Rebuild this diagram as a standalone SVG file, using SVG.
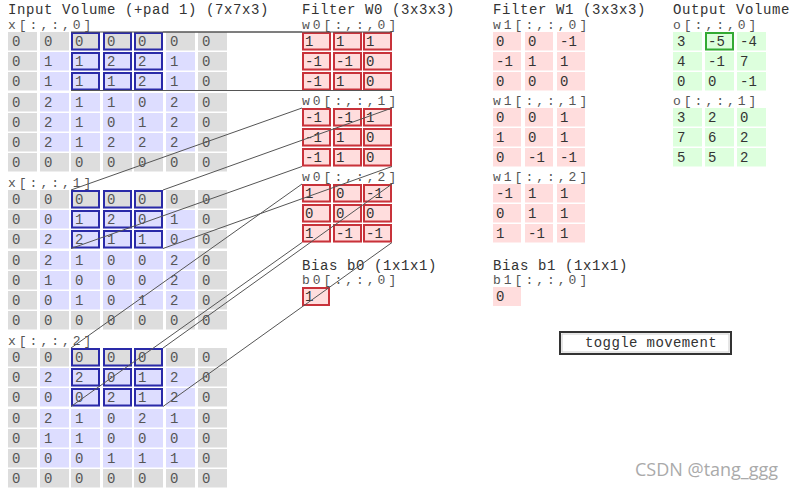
<svg xmlns="http://www.w3.org/2000/svg" width="800" height="492" viewBox="0 0 800 492">
<style>
text{font-family:"Liberation Mono","DejaVu Sans Mono",monospace}
.t{font-size:14px;fill:#333;letter-spacing:0.6px}
.l{font-size:13px;fill:#555;letter-spacing:3px}
.n{font-size:14px;fill:#555}
.fn{font-size:14px;fill:#333}
.p{fill:#ddd}
.i{fill:#ddf}
.f{fill:#fdd}
.o{fill:#dfd}
.hb{fill:none;stroke:#2a2aa8;stroke-width:2}
.hr{fill:none;stroke:#c8323a;stroke-width:2}
.hg{fill:none;stroke:#33aa33;stroke-width:2}
.c{stroke:#555;stroke-width:1;fill:none}
</style>
<defs>
<rect id="cp" class="p" width="29" height="18.5"/>
<rect id="ci" class="i" width="29" height="18.5"/>
<rect id="cf" class="f" width="29" height="18.5"/>
<rect id="cw" class="f" width="28" height="18.5"/>
<rect id="co" class="o" width="29" height="18.5"/>
<rect id="bb" class="hb" x="1" y="1" width="27" height="16.5"/>
<rect id="br" class="hr" x="1" y="1" width="27" height="16.5"/>
<g id="pgrid">
<use href="#cp" x="8" y="0"/><use href="#cp" x="40" y="0"/><use href="#cp" x="71" y="0"/><use href="#cp" x="103" y="0"/><use href="#cp" x="134" y="0"/><use href="#cp" x="166" y="0"/><use href="#cp" x="198" y="0"/>
<use href="#cp" x="8" y="20"/><use href="#ci" x="40" y="20"/><use href="#ci" x="71" y="20"/><use href="#ci" x="103" y="20"/><use href="#ci" x="134" y="20"/><use href="#ci" x="166" y="20"/><use href="#cp" x="198" y="20"/>
<use href="#cp" x="8" y="40"/><use href="#ci" x="40" y="40"/><use href="#ci" x="71" y="40"/><use href="#ci" x="103" y="40"/><use href="#ci" x="134" y="40"/><use href="#ci" x="166" y="40"/><use href="#cp" x="198" y="40"/>
<use href="#cp" x="8" y="61"/><use href="#ci" x="40" y="61"/><use href="#ci" x="71" y="61"/><use href="#ci" x="103" y="61"/><use href="#ci" x="134" y="61"/><use href="#ci" x="166" y="61"/><use href="#cp" x="198" y="61"/>
<use href="#cp" x="8" y="81"/><use href="#ci" x="40" y="81"/><use href="#ci" x="71" y="81"/><use href="#ci" x="103" y="81"/><use href="#ci" x="134" y="81"/><use href="#ci" x="166" y="81"/><use href="#cp" x="198" y="81"/>
<use href="#cp" x="8" y="101"/><use href="#ci" x="40" y="101"/><use href="#ci" x="71" y="101"/><use href="#ci" x="103" y="101"/><use href="#ci" x="134" y="101"/><use href="#ci" x="166" y="101"/><use href="#cp" x="198" y="101"/>
<use href="#cp" x="8" y="121"/><use href="#cp" x="40" y="121"/><use href="#cp" x="71" y="121"/><use href="#cp" x="103" y="121"/><use href="#cp" x="134" y="121"/><use href="#cp" x="166" y="121"/><use href="#cp" x="198" y="121"/>
<use href="#bb" x="71" y="0"/><use href="#bb" x="103" y="0"/><use href="#bb" x="134" y="0"/>
<use href="#bb" x="71" y="20"/><use href="#bb" x="103" y="20"/><use href="#bb" x="134" y="20"/>
<use href="#bb" x="71" y="40"/><use href="#bb" x="103" y="40"/><use href="#bb" x="134" y="40"/>
</g>
<g id="fgrid">
<use href="#cf" x="302" y="0"/><use href="#cf" x="333" y="0"/><use href="#cf" x="363" y="0"/>
<use href="#cf" x="302" y="20"/><use href="#cf" x="333" y="20"/><use href="#cf" x="363" y="20"/>
<use href="#cf" x="302" y="40"/><use href="#cf" x="333" y="40"/><use href="#cf" x="363" y="40"/>
<use href="#br" x="302" y="0"/><use href="#br" x="333" y="0"/><use href="#br" x="363" y="0"/>
<use href="#br" x="302" y="20"/><use href="#br" x="333" y="20"/><use href="#br" x="363" y="20"/>
<use href="#br" x="302" y="40"/><use href="#br" x="333" y="40"/><use href="#br" x="363" y="40"/>
</g>
<g id="wgrid">
<use href="#cw" x="493" y="0"/><use href="#cw" x="525" y="0"/><use href="#cw" x="557" y="0"/>
<use href="#cw" x="493" y="20"/><use href="#cw" x="525" y="20"/><use href="#cw" x="557" y="20"/>
<use href="#cw" x="493" y="40"/><use href="#cw" x="525" y="40"/><use href="#cw" x="557" y="40"/>
</g>
<g id="ogrid">
<use href="#co" x="673" y="0"/><use href="#co" x="705" y="0"/><use href="#co" x="737" y="0"/>
<use href="#co" x="673" y="20"/><use href="#co" x="705" y="20"/><use href="#co" x="737" y="20"/>
<use href="#co" x="673" y="40"/><use href="#co" x="705" y="40"/><use href="#co" x="737" y="40"/>
</g>
</defs>
<rect width="800" height="492" fill="#fff"/>

<text class="t" x="8" y="14">Input Volume (+pad 1) (7x7x3)</text>
<text class="t" x="302" y="14">Filter W0 (3x3x3)</text>
<text class="t" x="493" y="14">Filter W1 (3x3x3)</text>
<text class="t" x="673" y="14">Output Volume</text>

<g id="input-x0">
<text class="l" x="8" y="29">x[:,:,0]</text>
<use href="#pgrid" y="32"/>
<g class="n">
<text x="12" y="46">0</text><text x="44" y="46">0</text><text x="75" y="46">0</text><text x="107" y="46">0</text><text x="138" y="46">0</text><text x="170" y="46">0</text><text x="202" y="46">0</text>
<text x="12" y="66">0</text><text x="44" y="66">1</text><text x="75" y="66">1</text><text x="107" y="66">2</text><text x="138" y="66">2</text><text x="170" y="66">1</text><text x="202" y="66">0</text>
<text x="12" y="86">0</text><text x="44" y="86">1</text><text x="75" y="86">1</text><text x="107" y="86">1</text><text x="138" y="86">2</text><text x="170" y="86">1</text><text x="202" y="86">0</text>
<text x="12" y="107">0</text><text x="44" y="107">2</text><text x="75" y="107">1</text><text x="107" y="107">1</text><text x="138" y="107">0</text><text x="170" y="107">2</text><text x="202" y="107">0</text>
<text x="12" y="127">0</text><text x="44" y="127">2</text><text x="75" y="127">1</text><text x="107" y="127">0</text><text x="138" y="127">1</text><text x="170" y="127">2</text><text x="202" y="127">0</text>
<text x="12" y="147">0</text><text x="44" y="147">2</text><text x="75" y="147">1</text><text x="107" y="147">2</text><text x="138" y="147">2</text><text x="170" y="147">2</text><text x="202" y="147">0</text>
<text x="12" y="167">0</text><text x="44" y="167">0</text><text x="75" y="167">0</text><text x="107" y="167">0</text><text x="138" y="167">0</text><text x="170" y="167">0</text><text x="202" y="167">0</text>
</g>
</g>

<g id="input-x1">
<text class="l" x="8" y="187">x[:,:,1]</text>
<use href="#pgrid" y="190"/>
<g class="n">
<text x="12" y="204">0</text><text x="44" y="204">0</text><text x="75" y="204">0</text><text x="107" y="204">0</text><text x="138" y="204">0</text><text x="170" y="204">0</text><text x="202" y="204">0</text>
<text x="12" y="224">0</text><text x="44" y="224">0</text><text x="75" y="224">1</text><text x="107" y="224">2</text><text x="138" y="224">0</text><text x="170" y="224">1</text><text x="202" y="224">0</text>
<text x="12" y="244">0</text><text x="44" y="244">2</text><text x="75" y="244">2</text><text x="107" y="244">1</text><text x="138" y="244">1</text><text x="170" y="244">0</text><text x="202" y="244">0</text>
<text x="12" y="265">0</text><text x="44" y="265">2</text><text x="75" y="265">1</text><text x="107" y="265">0</text><text x="138" y="265">0</text><text x="170" y="265">2</text><text x="202" y="265">0</text>
<text x="12" y="285">0</text><text x="44" y="285">1</text><text x="75" y="285">0</text><text x="107" y="285">0</text><text x="138" y="285">0</text><text x="170" y="285">2</text><text x="202" y="285">0</text>
<text x="12" y="305">0</text><text x="44" y="305">0</text><text x="75" y="305">1</text><text x="107" y="305">0</text><text x="138" y="305">1</text><text x="170" y="305">2</text><text x="202" y="305">0</text>
<text x="12" y="325">0</text><text x="44" y="325">0</text><text x="75" y="325">0</text><text x="107" y="325">0</text><text x="138" y="325">0</text><text x="170" y="325">0</text><text x="202" y="325">0</text>
</g>
</g>

<g id="input-x2">
<text class="l" x="8" y="345">x[:,:,2]</text>
<use href="#pgrid" y="348"/>
<g class="n">
<text x="12" y="362">0</text><text x="44" y="362">0</text><text x="75" y="362">0</text><text x="107" y="362">0</text><text x="138" y="362">0</text><text x="170" y="362">0</text><text x="202" y="362">0</text>
<text x="12" y="382">0</text><text x="44" y="382">2</text><text x="75" y="382">2</text><text x="107" y="382">0</text><text x="138" y="382">1</text><text x="170" y="382">2</text><text x="202" y="382">0</text>
<text x="12" y="402">0</text><text x="44" y="402">0</text><text x="75" y="402">0</text><text x="107" y="402">2</text><text x="138" y="402">1</text><text x="170" y="402">2</text><text x="202" y="402">0</text>
<text x="12" y="423">0</text><text x="44" y="423">2</text><text x="75" y="423">1</text><text x="107" y="423">0</text><text x="138" y="423">2</text><text x="170" y="423">1</text><text x="202" y="423">0</text>
<text x="12" y="443">0</text><text x="44" y="443">1</text><text x="75" y="443">1</text><text x="107" y="443">0</text><text x="138" y="443">0</text><text x="170" y="443">0</text><text x="202" y="443">0</text>
<text x="12" y="463">0</text><text x="44" y="463">0</text><text x="75" y="463">0</text><text x="107" y="463">1</text><text x="138" y="463">1</text><text x="170" y="463">1</text><text x="202" y="463">0</text>
<text x="12" y="483">0</text><text x="44" y="483">0</text><text x="75" y="483">0</text><text x="107" y="483">0</text><text x="138" y="483">0</text><text x="170" y="483">0</text><text x="202" y="483">0</text>
</g>
</g>

<g id="filter-w0-0">
<text class="l" x="302" y="29">w0[:,:,0]</text>
<use href="#fgrid" y="32"/>
<g class="fn">
<text x="305" y="46">1</text><text x="336" y="46">1</text><text x="366" y="46">1</text>
<text x="305" y="66">-1</text><text x="336" y="66">-1</text><text x="366" y="66">0</text>
<text x="305" y="86">-1</text><text x="336" y="86">1</text><text x="366" y="86">0</text>
</g>
</g>
<g id="filter-w0-1">
<text class="l" x="302" y="105">w0[:,:,1]</text>
<use href="#fgrid" y="108"/>
<g class="fn">
<text x="305" y="122">-1</text><text x="336" y="122">-1</text><text x="366" y="122">1</text>
<text x="305" y="142">-1</text><text x="336" y="142">1</text><text x="366" y="142">0</text>
<text x="305" y="162">-1</text><text x="336" y="162">1</text><text x="366" y="162">0</text>
</g>
</g>
<g id="filter-w0-2">
<text class="l" x="302" y="181">w0[:,:,2]</text>
<use href="#fgrid" y="184"/>
<g class="fn">
<text x="305" y="198">1</text><text x="336" y="198">0</text><text x="366" y="198">-1</text>
<text x="305" y="218">0</text><text x="336" y="218">0</text><text x="366" y="218">0</text>
<text x="305" y="238">1</text><text x="336" y="238">-1</text><text x="366" y="238">-1</text>
</g>
</g>
<g id="bias-b0">
<text class="t" x="302" y="270">Bias b0 (1x1x1)</text>
<text class="l" x="302" y="284">b0[:,:,0]</text>
<rect class="f" x="302" y="287" width="28" height="19"/>
<rect class="hr" x="303" y="288" width="26" height="17"/>
<text class="fn" x="305" y="301">1</text>
</g>

<g id="filter-w1-0">
<text class="l" x="493" y="29">w1[:,:,0]</text>
<use href="#wgrid" y="32"/>
<g class="fn">
<text x="496" y="46">0</text><text x="528" y="46">0</text><text x="560" y="46">-1</text>
<text x="496" y="66">-1</text><text x="528" y="66">1</text><text x="560" y="66">1</text>
<text x="496" y="86">0</text><text x="528" y="86">0</text><text x="560" y="86">0</text>
</g>
</g>
<g id="filter-w1-1">
<text class="l" x="493" y="105">w1[:,:,1]</text>
<use href="#wgrid" y="108"/>
<g class="fn">
<text x="496" y="122">0</text><text x="528" y="122">0</text><text x="560" y="122">1</text>
<text x="496" y="142">1</text><text x="528" y="142">0</text><text x="560" y="142">1</text>
<text x="496" y="162">0</text><text x="528" y="162">-1</text><text x="560" y="162">-1</text>
</g>
</g>
<g id="filter-w1-2">
<text class="l" x="493" y="181">w1[:,:,2]</text>
<use href="#wgrid" y="184"/>
<g class="fn">
<text x="496" y="198">-1</text><text x="528" y="198">1</text><text x="560" y="198">1</text>
<text x="496" y="218">0</text><text x="528" y="218">1</text><text x="560" y="218">1</text>
<text x="496" y="238">1</text><text x="528" y="238">-1</text><text x="560" y="238">1</text>
</g>
</g>
<g id="bias-b1">
<text class="t" x="493" y="270">Bias b1 (1x1x1)</text>
<text class="l" x="493" y="284">b1[:,:,0]</text>
<rect class="f" x="493" y="287" width="28" height="19"/>
<text class="fn" x="496" y="301">0</text>
</g>

<g id="output-o0">
<text class="l" x="673" y="29">o[:,:,0]</text>
<use href="#ogrid" y="32"/>
<rect class="hg" x="706" y="33" width="27" height="16.5"/>
<g class="fn">
<text x="677" y="46">3</text><text x="708" y="46">-5</text><text x="740" y="46">-4</text>
<text x="677" y="66">4</text><text x="708" y="66">-1</text><text x="740" y="66">7</text>
<text x="677" y="86">0</text><text x="708" y="86">0</text><text x="740" y="86">-1</text>
</g>
</g>
<g id="output-o1">
<text class="l" x="673" y="105">o[:,:,1]</text>
<use href="#ogrid" y="108"/>
<g class="fn">
<text x="677" y="122">3</text><text x="708" y="122">2</text><text x="740" y="122">0</text>
<text x="677" y="142">7</text><text x="708" y="142">6</text><text x="740" y="142">2</text>
<text x="677" y="162">5</text><text x="708" y="162">5</text><text x="740" y="162">2</text>
</g>
</g>

<g id="toggle-button">
<rect x="560" y="332" width="171" height="22" fill="#fff" stroke="#333" stroke-width="2"/>
<rect x="562" y="334" width="167" height="18" fill="none" stroke="#ccc" stroke-width="1"/>
<text x="585" y="347" font-size="14" fill="#333" letter-spacing="0.4">toggle movement</text>
</g>

<g id="connectors" class="c">
<line x1="71" y1="32" x2="302" y2="32"/>
<line x1="163" y1="32" x2="392" y2="32"/>
<line x1="71" y1="90.5" x2="302" y2="90.5"/>
<line x1="163" y1="90.5" x2="392" y2="90.5"/>
<line x1="71" y1="190" x2="302" y2="108"/>
<line x1="163" y1="190" x2="392" y2="108"/>
<line x1="71" y1="248.5" x2="302" y2="166.5"/>
<line x1="163" y1="248.5" x2="392" y2="166.5"/>
<line x1="71" y1="348" x2="302" y2="184"/>
<line x1="163" y1="348" x2="392" y2="184"/>
<line x1="71" y1="406.5" x2="302" y2="242.5"/>
<line x1="163" y1="406.5" x2="392" y2="242.5"/>
</g>

<text x="635" y="476" font-size="18" fill="#aaa" style="font-family:'Open Sans','Noto Sans',sans-serif">CSDN @tang_ggg</text>
</svg>
